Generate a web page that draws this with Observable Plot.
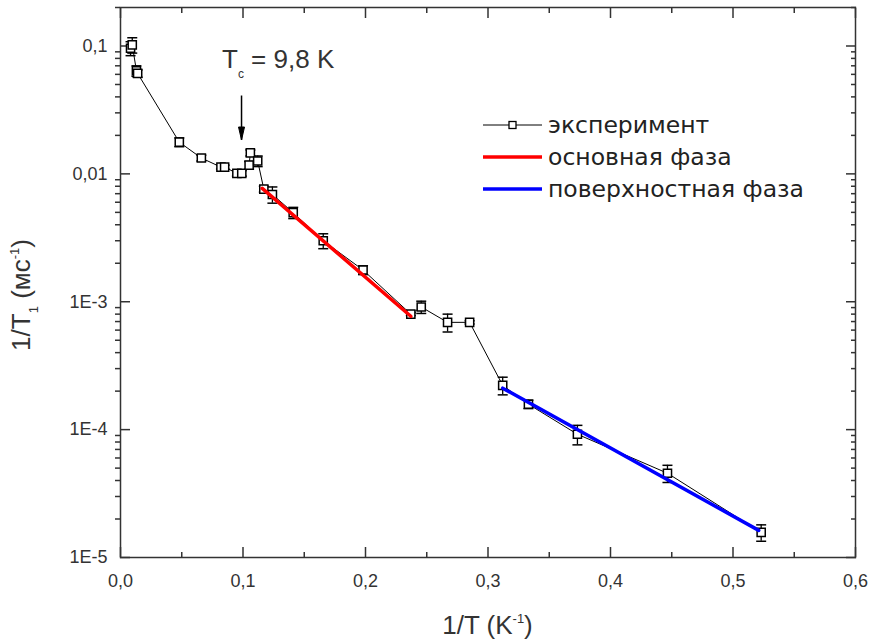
<!DOCTYPE html>
<html><head><meta charset="utf-8">
<script src="https://cdn.jsdelivr.net/npm/d3@7"></script>
<script src="https://cdn.jsdelivr.net/npm/@observablehq/plot@0.6"></script>
<style>
body{margin:0;background:#fff;}
#chart{position:relative;width:870px;height:641px;font-family:"Liberation Sans",Arial,sans-serif;}
#legend{position:absolute;left:483px;top:109px;font-family:"DejaVu Sans",sans-serif;font-size:23.5px;color:#222;}
#legend .row{display:flex;align-items:center;height:32px;}
#legend .row span{margin-left:6px;white-space:nowrap;}
</style></head><body><div id="chart"></div>
<script>
// experimental points: 1/T (K^-1), 1/T1 (ms^-1), error
const invT = [0.0082, 0.0096, 0.013, 0.014, 0.048, 0.066, 0.082, 0.085, 0.095, 0.099, 0.105, 0.106, 0.112, 0.117, 0.124, 0.141, 0.1655, 0.198, 0.237, 0.2455, 0.267, 0.285, 0.312, 0.333, 0.373, 0.4465, 0.523];
const rate = [0.096, 0.102, 0.064, 0.061, 0.0177, 0.0133, 0.0113, 0.0113, 0.0101, 0.0101, 0.0117, 0.0146, 0.0126, 0.0076, 0.0069, 0.00497, 0.0030, 0.00177, 0.0008, 0.00091, 0.00069, 0.00069, 0.000222, 0.000158, 0.000092, 0.0000456, 0.0000157];
const rateErr = [0.012, 0.014, 0.006, 0.004, 0.0014, 0.0007, 0.0004, 0.0004, 0.0005, 0.0005, 0.0008, 0.0008, 0.0012, 0.0004, 0.001, 0.0005, 0.0004, 0.00014, 0.00002, 0.0001, 0.00011, 0.00002, 0.000035, 0.000012, 0.000016, 0.000007, 0.0000023];
// fits
const bulkFitX = [0.1157, 0.237];
const bulkFitY = [0.0077, 0.00077];
const surfFitX = [0.312, 0.521];
const surfFitY = [0.000211, 0.0000163];
// Tc arrow
const tcX = 0.0988;
const tcArrowY = [0.041, 0.0184];
// ticks
const xTickValues = [0, 0.1, 0.2, 0.3, 0.4, 0.5, 0.6];
const xTickLabels = ["0,0", "0,1", "0,2", "0,3", "0,4", "0,5", "0,6"];
const xMinorTicks = [0.05, 0.15, 0.25, 0.35, 0.45, 0.55];
const yTickValues = [0.1, 0.01, 1e-3, 1e-4, 1e-5];
const yTickLabels = ["0,1", "0,01", "1E-3", "1E-4", "1E-5"];
const legendLabels = ["эксперимент", "основная фаза", "поверхностная фаза"];
const legendColors = ["#000", "#ff0000", "#0000ff"];

const yMinorTicks = [];
for (let e = -5; e <= -1; e++) for (let k = 2; k <= 9; k++) { const v = k * Math.pow(10, e); if (v <= 0.2) yMinorTicks.push(v); }

const pts = invT.map((x, i) => ({x, y: rate[i], lo: rate[i] - rateErr[i], hi: rate[i] + rateErr[i]}));
const bulk = bulkFitX.map((x, i) => ({x, y: bulkFitY[i]}));
const surf = surfFitX.map((x, i) => ({x, y: surfFitY[i]}));

const capSymbol = {draw(ctx) { ctx.moveTo(-5, 0); ctx.lineTo(5, 0); }};
const headSymbol = {draw(ctx) { ctx.moveTo(-3, -13); ctx.lineTo(3, -13); ctx.lineTo(0, 0); ctx.closePath(); }};

const ink = "#333";
const plot = Plot.plot({
  width: 870, height: 641,
  marginLeft: 120, marginRight: 15, marginTop: 7, marginBottom: 84,
  style: {fontSize: "18px", fontFamily: "'Liberation Sans', Arial, sans-serif", color: ink, background: "#fff"},
  x: {domain: [0, 0.6]},
  y: {type: "log", domain: [1e-5, 0.2]},
  marks: [
    Plot.axisX({ticks: xTickValues, tickSize: -10, tickFormat: () => "", label: null, strokeWidth: 1.5}),
    Plot.axisX({ticks: xMinorTicks, tickSize: -5, tickFormat: () => "", label: null, strokeWidth: 1.5}),
    Plot.axisX({anchor: "top", ticks: xTickValues, tickSize: -10, tickFormat: () => "", label: null, strokeWidth: 1.5}),
    Plot.axisX({anchor: "top", ticks: xMinorTicks, tickSize: -5, tickFormat: () => "", label: null, strokeWidth: 1.5}),
    Plot.axisX({ticks: xTickValues, tickSize: 0, tickPadding: 17, tickFormat: d => xTickLabels[xTickValues.indexOf(d)], label: null, fill: ink}),
    Plot.axisY({ticks: yTickValues, tickSize: -10, tickFormat: () => "", label: null, strokeWidth: 1.5}),
    Plot.axisY({ticks: yMinorTicks, tickSize: 5, tickFormat: () => "", label: null, strokeWidth: 1.5}),
    Plot.axisY({anchor: "right", ticks: yTickValues, tickSize: -10, tickFormat: () => "", label: null, strokeWidth: 1.5}),
    Plot.axisY({anchor: "right", ticks: yMinorTicks, tickSize: -5, tickFormat: () => "", label: null, strokeWidth: 1.5}),
    Plot.axisY({ticks: yTickValues, tickSize: 0, tickPadding: 13, tickFormat: d => yTickLabels[yTickValues.indexOf(d)], label: null, fill: ink}),
    Plot.frame({stroke: ink, strokeWidth: 1.5}),
    Plot.line(pts, {x: "x", y: "y", stroke: "#000", strokeWidth: 1}),
    Plot.ruleX(pts, {x: "x", y1: "lo", y2: "hi", stroke: "#000", strokeWidth: 1.3}),
    Plot.dot(pts, {x: "x", y: "lo", symbol: capSymbol, stroke: "#000", strokeWidth: 1.5, fill: "none"}),
    Plot.dot(pts, {x: "x", y: "hi", symbol: capSymbol, stroke: "#000", strokeWidth: 1.5, fill: "none"}),
    Plot.dot(pts, {x: "x", y: "y", symbol: "square", r: 4.6, stroke: "#000", strokeWidth: 1.5, fill: "#fff"}),
    Plot.line(bulk, {x: "x", y: "y", stroke: "#ff0000", strokeWidth: 3.5}),
    Plot.line(surf, {x: "x", y: "y", stroke: "#0000ff", strokeWidth: 3.5}),
    Plot.link([0], {x1: () => tcX, x2: () => tcX, y1: () => tcArrowY[0], y2: () => tcArrowY[1], stroke: "#000", strokeWidth: 1.5}),
    Plot.dot([0], {x: () => tcX, y: () => tcArrowY[1], symbol: headSymbol, fill: "#000", stroke: "#000", strokeWidth: 1})
  ]
});

const chart = document.getElementById("chart");
chart.appendChild(plot);
const svg = d3.select(plot);

// Tc annotation
const tc = svg.append("text").attr("x", 222).attr("y", 68).attr("text-anchor", "start")
  .style("font-size", "26px").style("fill", ink);
tc.append("tspan").text("T");
tc.append("tspan").attr("dy", 10).style("font-size", "12px").text("c");
tc.append("tspan").attr("dy", -10).text(" = 9,8 K");

// x label
const xl = svg.append("text").attr("x", (120 + 855) / 2).attr("y", 634).attr("text-anchor", "middle")
  .style("font-size", "26px").style("fill", ink);
xl.append("tspan").text("1/T (K");
xl.append("tspan").attr("dy", -11).style("font-size", "13px").text("-1");
xl.append("tspan").attr("dy", 11).text(")");

// y label
const yl = svg.append("text").attr("transform", "translate(30,295) rotate(-90)").attr("text-anchor", "middle")
  .style("font-size", "26px").style("fill", ink);
yl.append("tspan").text("1/T");
yl.append("tspan").attr("dy", 8).style("font-size", "13px").text("1");
yl.append("tspan").attr("dy", -8).text(" (мс");
yl.append("tspan").attr("dy", -11).style("font-size", "13px").text("-1");
yl.append("tspan").attr("dy", 11).text(")");

// legend
const leg = document.createElement("div");
leg.id = "legend";
legendLabels.forEach((lab, i) => {
  const row = document.createElement("div");
  row.className = "row";
  const s = d3.create("svg").attr("width", 59).attr("height", 32);
  s.append("line").attr("x1", 0).attr("x2", 59).attr("y1", 16).attr("y2", 16)
    .attr("stroke", legendColors[i]).attr("stroke-width", i === 0 ? 1 : 3.5);
  if (i === 0) s.append("rect").attr("x", 26).attr("y", 12.5).attr("width", 7).attr("height", 7)
    .attr("fill", "#fff").attr("stroke", "#000").attr("stroke-width", 1.3);
  row.appendChild(s.node());
  const t = document.createElement("span");
  t.textContent = lab;
  row.appendChild(t);
  leg.appendChild(row);
});
chart.appendChild(leg);
</script>
</body></html>
